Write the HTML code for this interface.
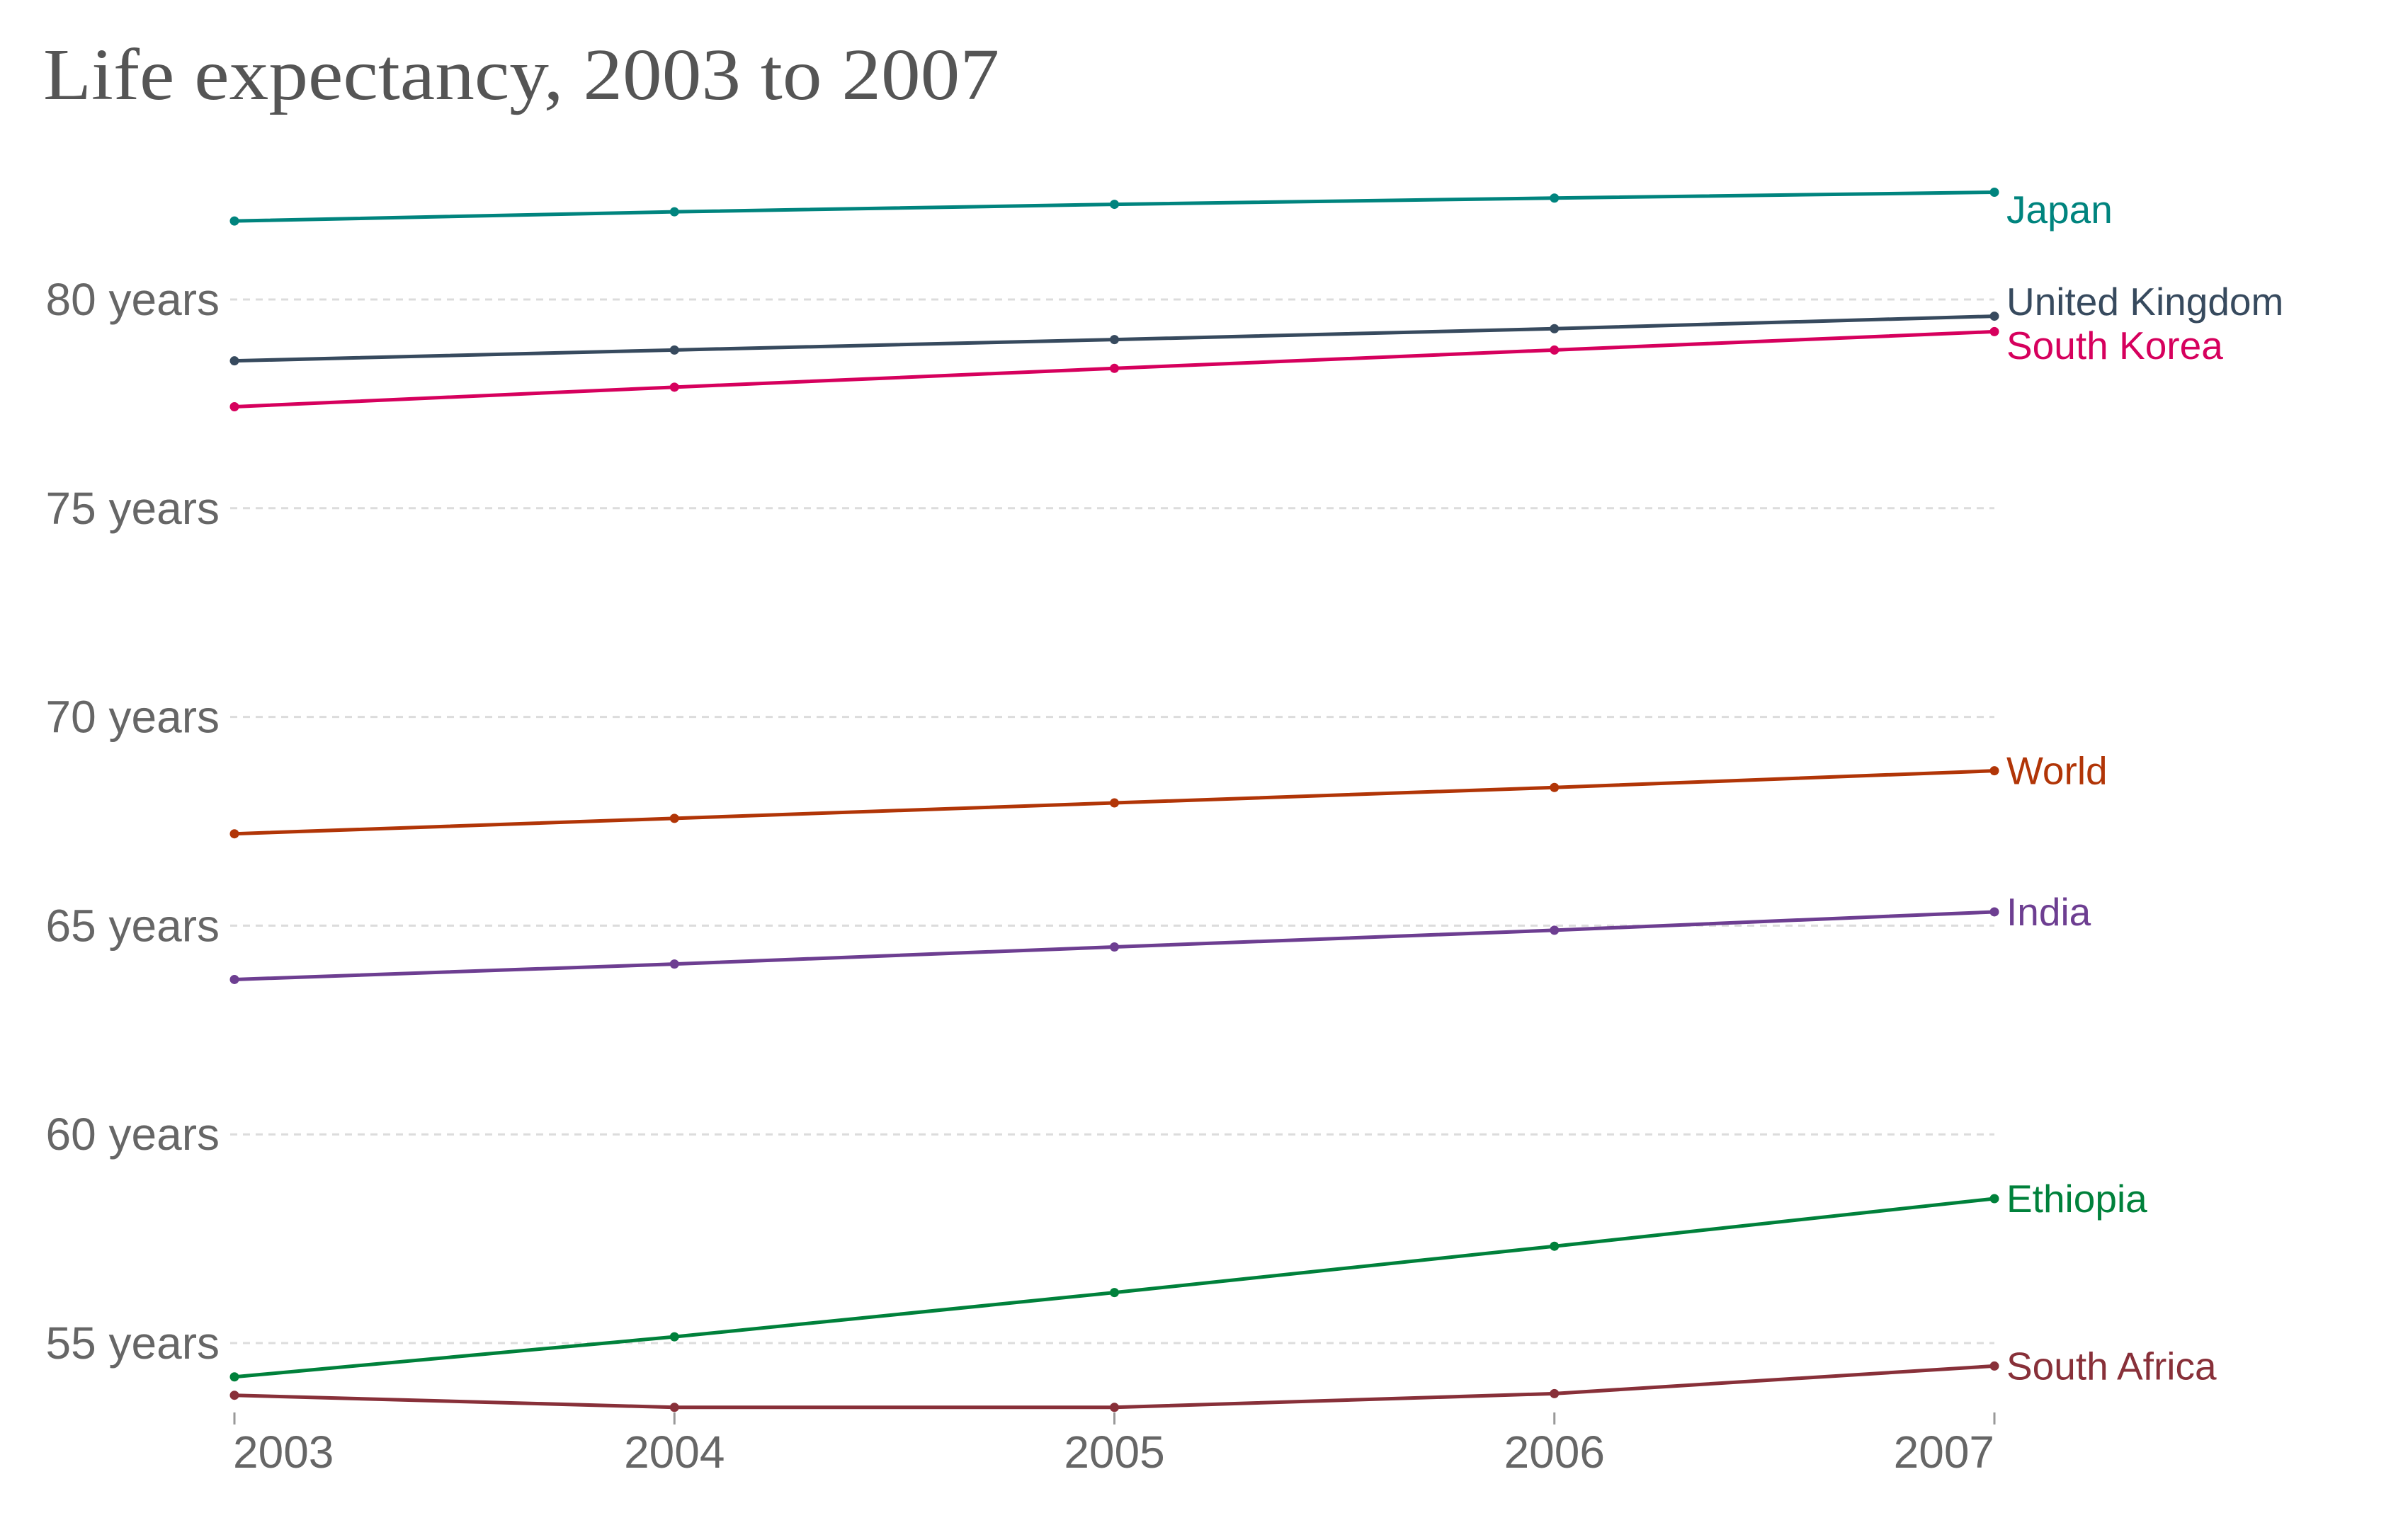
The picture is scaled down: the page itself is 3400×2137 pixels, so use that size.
<!DOCTYPE html>
<html><head><meta charset="utf-8"><style>
body{margin:0;background:#fff;}
svg text{font-family:"Liberation Sans",sans-serif;}
</style></head><body>
<svg width="3400" height="2132" xmlns="http://www.w3.org/2000/svg">
<rect width="3400" height="2132" fill="#fff"/>
<text x="61" y="140" textLength="1350" lengthAdjust="spacingAndGlyphs" style="font-family:'Liberation Serif',serif" font-size="104" fill="#555">Life expectancy, 2003 to 2007</text>
<g id="grid"></g><g id="series"></g><g id="xaxis"></g>
</svg>
<script>
const years=[2003,2004,2005,2006,2007];
const yTicks=[55,60,65,70,75,80];
const names=["Japan","United Kingdom","South Korea","World","India","Ethiopia","South Africa"];
const colors=["#00847e","#374a5e","#d6005d","#b13507","#6d3e91","#00813b","#883039"];
const japan=[81.88,82.1,82.28,82.43,82.57];
const uk=[78.53,78.79,79.04,79.3,79.6];
const korea=[77.43,77.9,78.35,78.79,79.23];
const world=[67.2,67.57,67.94,68.31,68.71];
const india=[63.71,64.08,64.49,64.89,65.33];
const ethiopia=[54.19,55.15,56.21,57.32,58.46];
const southAfrica=[53.75,53.46,53.46,53.79,54.45];
const labelValues=[82.15,79.95,78.9,68.71,65.33,58.46,54.45];
const seriesData=[japan,uk,korea,world,india,ethiopia,southAfrica];
const NS="http://www.w3.org/2000/svg";
const X=y=>331+(y-2003)*(2816-331)/4;
const Y=v=>1897-(v-55)*(1897-423)/25;
function mk(t,a,p){const e=document.createElementNS(NS,t);for(const k in a)e.setAttribute(k,a[k]);p.appendChild(e);return e;}
const grid=document.getElementById('grid'),ser=document.getElementById('series'),xa=document.getElementById('xaxis');
yTicks.forEach(v=>{
 const l=mk('line',{x1:325,x2:2816,y1:Y(v),y2:Y(v),stroke:'#dcdcdc','stroke-width':3,'stroke-dasharray':'10,8'},grid);
 
 
 const t=mk('text',{x:310,y:Y(v)+22,'text-anchor':'end','font-size':64,fill:'#666'},grid);
 t.textContent=v+' years';
 
 
});
years.forEach((yr,i)=>{
 const l=mk('line',{x1:X(yr),x2:X(yr),y1:1995,y2:2012,stroke:'#999','stroke-width':3},xa);
 
 
 const anchor=i==0?'start':(i==years.length-1?'end':'middle');
 const t=mk('text',{x:X(yr)+(i==0?-2:0),y:2073,'text-anchor':anchor,'font-size':64,fill:'#666'},xa);
 t.textContent=yr;
 
 
});
seriesData.forEach((d,s)=>{
 const g=mk('g',{},ser);
 
 
 const pl=mk('polyline',{points:d.map((v,i)=>X(years[i])+','+Y(v)).join(' '),fill:'none',stroke:colors[s],'stroke-width':5},g);
 
 
 d.forEach((v,i)=>{
  const c=mk('circle',{cx:X(years[i]),cy:Y(v),r:6.5,fill:colors[s]},g);
  
  
 });
 const t=mk('text',{x:2833,y:Y(labelValues[s])+19,'font-size':55,fill:colors[s]},g);
 t.textContent=names[s];
 
 
});
</script>
</body></html>
